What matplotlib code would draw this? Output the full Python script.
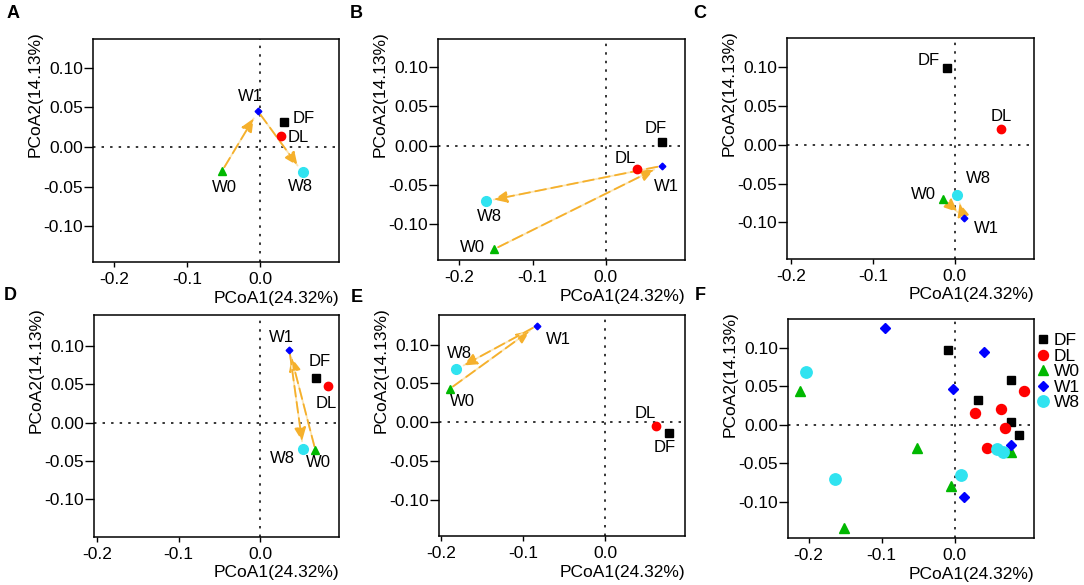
import matplotlib
matplotlib.use("Agg")
import matplotlib.pyplot as plt
from matplotlib.lines import Line2D

plt.rcParams['font.family'] = ['Liberation Sans', 'DejaVu Sans']

# group order used by every small panel
groups = ["DF", "DL", "W0", "W1", "W8"]
colors = ["#000000", "#FF0000", "#00B800", "#0000FF", "#30E3F0"]
markers = ["s", "o", "^", "D", "o"]
msizes = [5.2, 6.0, 5.4, 3.4, 7.0]

# panel A-E: one point per group (DF, DL, W0, W1, W8)
a_x = [0.032, 0.028, -0.052, -0.003, 0.058]
a_y = [0.031, 0.014, -0.030, 0.045, -0.032]
b_x = [0.077, 0.043, -0.152, 0.076, -0.164]
b_y = [0.004, -0.030, -0.132, -0.026, -0.071]
c_x = [-0.009, 0.056, -0.014, 0.011, 0.003]
c_y = [0.098, 0.020, -0.070, -0.094, -0.065]
d_x = [0.069, 0.084, 0.068, 0.036, 0.053]
d_y = [0.058, 0.048, -0.036, 0.095, -0.035]
e_x = [0.078, 0.062, -0.190, -0.084, -0.182]
e_y = [-0.013, -0.005, 0.043, 0.124, 0.068]

# panel F: all samples
f_df_x = [-0.009, 0.032, 0.077, 0.077, 0.087]
f_df_y = [0.097, 0.032, 0.058, 0.004, -0.013]
f_dl_x = [0.028, 0.063, 0.094, 0.069, 0.044]
f_dl_y = [0.015, 0.020, 0.043, -0.005, -0.030]
f_w0_x = [-0.212, -0.052, -0.006, -0.151, 0.076]
f_w0_y = [0.043, -0.030, -0.079, -0.134, -0.036]
f_w1_x = [-0.095, 0.040, -0.003, 0.013, 0.076]
f_w1_y = [0.125, 0.094, 0.046, -0.094, -0.026]
f_w8_x = [-0.204, -0.164, 0.008, 0.058, 0.065]
f_w8_y = [0.068, -0.071, -0.065, -0.031, -0.035]

x_ticks = [-0.2, -0.1, 0.0]
y_ticks = [-0.10, -0.05, 0.00, 0.05, 0.10]
x_label = "PCoA1(24.32%)"
y_label = "PCoA2(14.13%)"

W, H = 1084, 585
fig = plt.figure(figsize=(W / 100, H / 100), dpi=100)


def make_axes(l, t, r, b, xlim, ylim):
    ax = fig.add_axes([l / W, 1 - b / H, (r - l) / W, (b - t) / H])
    ax.set_xlim(*xlim)
    ax.set_ylim(*ylim)
    ax.set_xticks(x_ticks)
    ax.set_yticks(y_ticks)
    ax.set_xticklabels(["%.1f" % v for v in x_ticks])
    ax.set_yticklabels(["%.2f" % v for v in y_ticks])
    ax.tick_params(direction='out', width=1.0, labelsize=12.5, colors='black')
    ax.tick_params(axis='x', length=3.5, pad=4)
    ax.tick_params(axis='y', length=6.5, pad=0.5)
    for s in ax.spines.values():
        s.set_linewidth(1.1)
    ax.axhline(0, color='black', lw=1.1, dashes=(1.6, 4.0), zorder=1)
    ax.axvline(0, color='black', lw=1.1, dashes=(1.6, 4.0), zorder=1)
    # axis titles
    fig.text(r / W, 1 - (b + 36) / H, x_label, ha='right', va='center',
             fontsize=12.5)
    fig.text((l - 58) / W, 1 - (t - 8) / H, y_label, ha='center', va='top',
             rotation=90, fontsize=12.5)
    return ax


def draw_arrow(ax, p0, p1):
    ax.annotate('', xy=p1, xytext=p0,
                arrowprops=dict(arrowstyle='-', color='#FCE6B6', lw=1.3,
                                shrinkA=3, shrinkB=6), zorder=2)
    ax.annotate('', xy=p1, xytext=p0,
                arrowprops=dict(arrowstyle='-|>,head_length=0.8,head_width=0.35',
                                color='#F5B02C', lw=1.3, linestyle=(0, (6, 3)),
                                shrinkA=3, shrinkB=6, mutation_scale=10),
                zorder=2)


def small_panel(rect, xlim, ylim, xs, ys, offsets):
    ax = make_axes(*rect, xlim, ylim)
    # trajectory W0 -> W1 -> W8
    i0, i1, i8 = groups.index("W0"), groups.index("W1"), groups.index("W8")
    draw_arrow(ax, (xs[i0], ys[i0]), (xs[i1], ys[i1]))
    draw_arrow(ax, (xs[i1], ys[i1]), (xs[i8], ys[i8]))
    for i, g in enumerate(groups):
        ax.plot(xs[i], ys[i], marker=markers[i], color=colors[i],
                ms=msizes[i], ls='none', zorder=3)
        dx, dy = offsets[i]
        ax.annotate(g, (xs[i], ys[i]), xytext=(dx, -dy),
                    textcoords='offset pixels', ha='center', va='center',
                    fontsize=12)
    return ax


# label offsets in pixels (right, down) for DF, DL, W0, W1, W8
small_panel((93, 39, 339, 262), (-0.229, 0.108), (-0.145, 0.136), a_x, a_y,
            [(20, -4), (18, 2), (2, 17), (-8, -15), (-2, 14)])
small_panel((438, 39, 685, 260), (-0.229, 0.108), (-0.146, 0.136), b_x, b_y,
            [(-7, -14), (-12, -11), (-22, -2), (5, 21), (4, 15)])
small_panel((787, 38, 1034, 259), (-0.2055, 0.097), (-0.147, 0.137), c_x, c_y,
            [(-19, -8), (1, -13), (-20, -5), (23, 11), (21, -17)])
small_panel((94, 315, 339, 537), (-0.204, 0.097), (-0.149, 0.140), d_x, d_y,
            [(3, -16), (-2, 18), (3, 12), (-8, -12), (-21, 9)])
small_panel((439, 315, 685, 536), (-0.203, 0.097), (-0.146, 0.138), e_x, e_y,
            [(-5, 15), (-11, -13), (13, 13), (22, 14), (3, -16)])

# panel F: all samples
axf = make_axes(788, 319, 1034, 538, (-0.228, 0.108), (-0.147, 0.137))
f_sets = [(f_df_x, f_df_y), (f_dl_x, f_dl_y), (f_w0_x, f_w0_y),
          (f_w1_x, f_w1_y), (f_w8_x, f_w8_y)]
handles = []
for i, (fx, fy) in enumerate(f_sets):
    axf.plot(fx, fy, marker=markers[i], color=colors[i], ms=msizes[i] + 1.2,
             ls='none', zorder=3)
    handles.append(Line2D([], [], marker=markers[i], color=colors[i],
                          ms=msizes[i] + 1.2, ls='none'))
fig.legend(handles, groups, loc='upper left',
           bbox_to_anchor=(1037 / W, 1 - 333 / H), frameon=False,
           fontsize=12.5, handlelength=0.7, handletextpad=0.25,
           labelspacing=0.02, borderpad=0, borderaxespad=0)

# panel letters
for letter, (px, py) in zip("ABCDEF", [(13, 13), (356, 13), (700, 13),
                                       (10, 296), (357, 297), (700, 296)]):
    fig.text(px / W, 1 - py / H, letter, ha='center', va='center',
             fontsize=13, fontweight='bold')

fig.savefig('out.png', dpi=100)
